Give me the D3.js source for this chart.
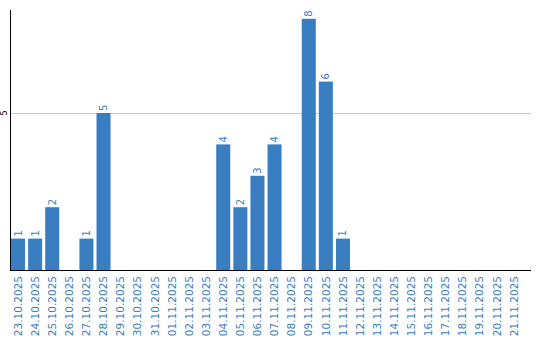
<!DOCTYPE html>
<html><head><meta charset="utf-8">
<script src="https://cdn.jsdelivr.net/npm/d3@7"></script>
<style>body{margin:0;background:#fff;}svg{display:block;}</style>
</head><body>
<svg id="c" width="540" height="340"></svg>
<script>
const categories = ["23.10.2025","24.10.2025","25.10.2025","26.10.2025","27.10.2025","28.10.2025","29.10.2025","30.10.2025","31.10.2025","01.11.2025","02.11.2025","03.11.2025","04.11.2025","05.11.2025","06.11.2025","07.11.2025","08.11.2025","09.11.2025","10.11.2025","11.11.2025","12.11.2025","13.11.2025","14.11.2025","15.11.2025","16.11.2025","17.11.2025","18.11.2025","19.11.2025","20.11.2025","21.11.2025"];
const values = [1,1,2,0,1,5,0,0,0,0,0,0,4,2,3,4,0,8,6,1,0,0,0,0,0,0,0,0,0,0];
const yTicks = [5];

(function(){
const blue = "#3a7ec2";
const svg = d3.select("#c");
const mL = 11, mR = 531, mT = 10, mB = 270;
const x = d3.scaleBand().domain(categories).range([mL, mL + 17*categories.length]).paddingInner(0.18).paddingOuter(0);
const y = d3.scaleLinear().domain([0, 8.28]).range([mB, mT]);

svg.append("g").selectAll("line").data(yTicks).join("line")
  .attr("x1", mL).attr("x2", mR)
  .attr("y1", d => Math.round(y(d)) + 0.5).attr("y2", d => Math.round(y(d)) + 0.5)
  .attr("stroke", "#c8c8c8").attr("stroke-width", 1);

svg.append("g").selectAll("text").data(yTicks).join("text")
  .attr("transform", d => `translate(7,${y(d)}) rotate(-90)`)
  .attr("text-anchor", "middle")
  .attr("font-family", "DejaVu Sans, Verdana, sans-serif")
  .attr("font-size", 8).attr("fill", "#000")
  .text(d => d);

svg.append("g").selectAll("rect").data(values).join("rect")
  .attr("x", (d,i) => x(categories[i]))
  .attr("width", x.bandwidth())
  .attr("y", d => y(d))
  .attr("height", d => mB - y(d))
  .attr("fill", blue);

svg.append("g").selectAll("text").data(values.map((v,i)=>({v,i})).filter(d => d.v > 0)).join("text")
  .attr("transform", d => `translate(${x(categories[d.i]) + x.bandwidth()/2},${y(d.v) - 2}) rotate(-90)`)
  .attr("text-anchor", "start")
  .attr("dy", "0.35em")
  .attr("font-family", "DejaVu Sans, Verdana, sans-serif")
  .attr("font-size", 10).attr("fill", blue)
  .text(d => d.v);

svg.append("line").attr("x1", mL - 0.5).attr("x2", mL - 0.5).attr("y1", mT).attr("y2", mB + 0.5)
  .attr("stroke", "#000").attr("stroke-width", 1);
svg.append("line").attr("x1", mL - 1).attr("x2", mR).attr("y1", mB + 0.5).attr("y2", mB + 0.5)
  .attr("stroke", "#000").attr("stroke-width", 1);

svg.append("g").selectAll("text").data(categories).join("text")
  .attr("transform", d => `translate(${x(d) + x.bandwidth()/2},276) rotate(-90)`)
  .attr("text-anchor", "end")
  .attr("dy", "0.35em")
  .attr("font-family", "DejaVu Sans, Verdana, sans-serif")
  .attr("font-size", 10.5).attr("fill", blue)
  .text(d => d);
})();
</script>
</body></html>
